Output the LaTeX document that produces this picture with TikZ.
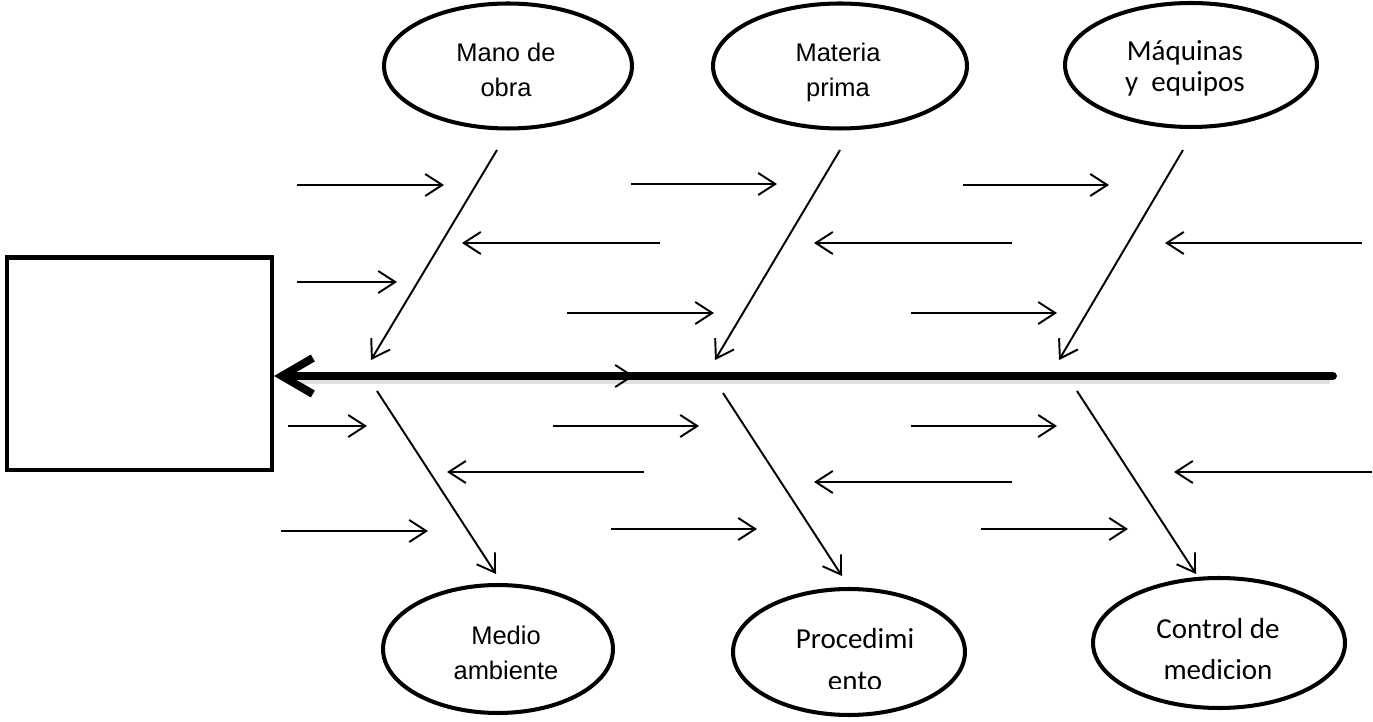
\documentclass[tikz,border=0pt]{standalone}
\usepackage{fontspec}
\setmainfont{Liberation Sans}
\newfontfamily\calfont{Carlito}
\usetikzlibrary{arrows.meta,shapes.geometric}
\tikzset{
  cause/.style={draw, ellipse, line width=2.3pt, inner sep=0pt},
  lbl/.style={align=center, inner sep=0pt},
  arialtxt/.style={font=\fontsize{14.5}{20.4}\selectfont},
  caltxt/.style={font=\calfont\fontsize{16.5}{23.8}\selectfont},
  sub/.style={line width=1.1pt, -{Straight Barb[length=3.4mm,width=4.4mm,line width=1.1pt]}},
  bone/.style={line width=1.1pt, -{Straight Barb[length=3.4mm,width=4.4mm,line width=1.1pt]}},
  spine/.style={line width=4.5pt, line cap=round, -{Straight Barb[length=6.2mm,width=7.2mm,line width=4.5pt]}},
  effect/.style={draw, line width=2.3pt, minimum width=5.3cm, minimum height=4.26cm, inner sep=0pt}
}
\begin{document}
\begin{tikzpicture}[x=0.02cm,y=-0.02cm]
\useasboundingbox (0,0) rectangle (1373,722);
% effect box
\node[effect] (box) at (139.5,364) {};
% ellipses top
\node[cause, minimum width=4.96cm, minimum height=2.5cm] (mano) at (508,66) {};
\node[lbl, arialtxt, anchor=base] (manot) at (506,97) {Mano de\\obra};
\node[cause, minimum width=5.08cm, minimum height=2.5cm] (mat) at (840,66) {};
\node[lbl, arialtxt, anchor=base] (matt) at (838,97) {Materia\\prima};
\node[cause, minimum width=5.04cm, minimum height=2.48cm] (maq) at (1191,65) {};
\node[lbl, caltxt, font=\calfont\fontsize{16.5}{18.2}\selectfont, anchor=base] (maqt) at (1185,92) {Máquinas\\y\ \ equipos};
% ellipses bottom
\node[cause, minimum width=4.6cm, minimum height=2.56cm] (medio) at (498,649) {};
\node[lbl, arialtxt, anchor=base] (mediot) at (506,680) {Medio\\ambiente};
\node[cause, minimum width=4.64cm, minimum height=2.52cm] (proc) at (849,652) {};
\begin{scope}
\clip (730,600) rectangle (970,688);
\node[lbl, caltxt, anchor=base] (proct) at (855,690) {Procedimi\\ento};
\end{scope}
\node[cause, minimum width=5.04cm, minimum height=2.6cm] (ctrl) at (1219,643) {};
\begin{scope}
\clip (1090,590) rectangle (1350,678);
\node[lbl, caltxt, anchor=base] (ctrlt) at (1218,680) {Control de\\medicion};
\end{scope}
% spine
\coordinate (sp) at (1333,376);
\draw[line width=3pt, black!12] (1330,381) -- (300,381);
\draw[spine] (sp) -- (sp -| box.east);
% main bones
\coordinate (b1s) at (497,150); \coordinate (b1e) at (371,360);
\coordinate (b2s) at (840,150); \coordinate (b2e) at (715,360);
\coordinate (b3s) at (1183,150); \coordinate (b3e) at (1059,360);
\coordinate (b4s) at (377,391); \coordinate (b4e) at (496,574);
\coordinate (b5s) at (723,393); \coordinate (b5e) at (842,576);
\coordinate (b6s) at (1077,391); \coordinate (b6e) at (1196,574);
\foreach \i in {1,...,6} \draw[bone] (b\i s) -- (b\i e);
% sub-causes: start/end pairs
\foreach \n/\xa/\ya/\xb/\yb in {
  a1/297/185/444/185, a2/660/243/462/243, a3/297/282/397/282,
  a4/567/313/714/313, a5/560/376/634/376,
  a6/288/426/367/426, a7/644/472/447/472, a8/281/531/428/531,
  c1/631/184/777/184, c2/1012/243/814/243,
  c3/553/426/699/426, c4/1012/482/814/482, c5/611/529/757/529,
  d1/963/185/1109/185, d2/1362/243/1165/243, d3/911/313/1057/313,
  d4/911/426/1057/426, d5/1372/472/1174/472, d6/981/529/1128/529}{
  \coordinate (\n s) at (\xa,\ya);
  \coordinate (\n e) at (\xb,\yb);
  \draw[sub] (\n s) -- (\n e);
}
\end{tikzpicture}
\end{document}
